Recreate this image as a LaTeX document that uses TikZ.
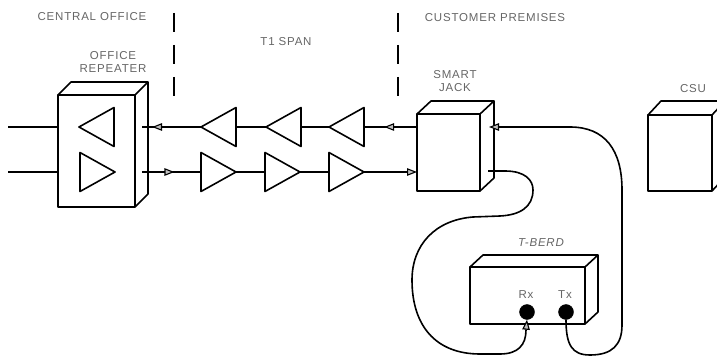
\documentclass[tikz,border=0pt]{standalone}
\usepackage{fontspec}
\setmainfont[LetterSpace=7]{Liberation Sans}
\usetikzlibrary{shapes.geometric,arrows.meta,decorations.markings}
\definecolor{lbl}{gray}{0.4}
\tikzset{
  x=1pt,y=-1pt,
  ink/.style={line width=1.6pt,black,line join=round},
  boxfront/.style={draw,ink,rectangle,inner sep=0,outer sep=0},
  ampl/.style={draw,ink,isosceles triangle,isosceles triangle stretches,inner sep=0,outer sep=0,
    minimum width=39pt,minimum height=35pt,anchor=apex},
  ampleft/.style={ampl,shape border rotate=180},
  ampright/.style={ampl,shape border rotate=0},
  wire/.style={ink},
  opentip/.tip={Triangle[length=10pt,width=7.5pt,fill=lightgray,line width=1.1pt]},
  flowat/.style={postaction={decorate,decoration={markings,mark=at position #1 with {\arrow{opentip}}}}},
  lab/.style={text=lbl,font=\fontsize{11.5}{13}\selectfont,inner sep=0,align=center},
  boundary/.style={line width=1.6pt,black},
  port/.style={circle,fill=black,draw=black,minimum size=15pt,inner sep=0},
}
\newcommand{\cuboid}[7]{% name, x0,y0,x1,y1, dx, dy
  \node[boxfront,minimum width=#4-#2,minimum height=#5-#3] (#1) at ({(#2+#4)/2},{(#3+#5)/2}) {};
  \draw[ink] (#1.north west) -- ++(#6,-#7) -- ({#4+#6},{#3-#7}) -- (#1.north east);
  \draw[ink] ({#4+#6},{#3-#7}) -- ({#4+#6},{#5-#7}) -- (#1.south east);
}
\begin{document}
\begin{tikzpicture}
\clip (0,0) rectangle (717,358);
\fill[white] (0,0) rectangle (717,358);

% labels
\node[lab] (lco) at (92,17) {CENTRAL OFFICE};
\node[lab] (lspan) at (286,42) {T1 SPAN};
\node[lab] (lcp) at (495,18) {CUSTOMER PREMISES};
\node[lab] (lrep) at (113,61.5) {OFFICE\\REPEATER};
\node[lab] (ljack) at (455,81.5) {SMART\\JACK};
\node[lab] (lcsu) at (693,89) {CSU};
\node[lab,font=\fontsize{11.5}{13}\itshape] (lbert) at (541,243) {T-BERD};
\node[lab] (lrx) at (526,295) {Rx};
\node[lab] (ltx) at (565,295) {Tx};

% boundaries
\foreach \bx in {174,398}{
  \foreach \by in {13,45,77}{
    \draw[boundary] (\bx,\by) -- (\bx,\by+19);
  }
}

% boxes
\cuboid{rep}{58}{95}{135}{207}{13}{13}
\cuboid{jack}{417}{114}{480}{191}{14}{13}
\cuboid{csu}{648}{115}{712}{191}{13}{14}
\cuboid{bert}{470}{267}{585}{324}{13}{12}

% amplifiers
\node[ampleft]  (ra) at (79,127) {};
\node[ampright] (rb) at (115,172) {};
\node[ampleft]  (a1) at (201,127) {};
\node[ampleft]  (a2) at (266,127) {};
\node[ampleft]  (a3) at (329,127) {};
\node[ampright] (b1) at (236,172) {};
\node[ampright] (b2) at (300,172) {};
\node[ampright] (b3) at (364,172) {};

% free ends
\coordinate (in1) at (8,127);
\coordinate (in2) at (8,172);
\coordinate (side1) at (142,127);
\coordinate (side2) at (142,172);
\coordinate (jin) at (489,127);
\coordinate (jout) at (488,171);

% lines
\draw[wire] (in1) -- (rep.west |- in1);
\draw[wire] (in2) -- (rep.west |- in2);
\draw[wire,flowat=0.83] (a1.apex) -- (side1);
\draw[wire] (a1.lower side) -- (a2.apex);
\draw[wire] (a2.lower side) -- (a3.apex);
\draw[wire,flowat=0.62] (jack.west |- a3.apex) -- (a3.lower side);
\draw[wire,flowat=0.55] (side2) -- (b1.lower side);
\draw[wire] (b1.apex) -- (b2.lower side);
\draw[wire] (b2.apex) -- (b3.lower side);
\draw[wire,-opentip] (b3.apex) -- (jack.west |- b3.apex);

% ports
\node[port] (rx) at (527,312) {};
\node[port] (tx) at (566,312) {};

% cables
\draw[wire,-opentip] (tx.south) .. controls (566,345) and (572,355) .. (590,355)
  .. controls (612,355) and (622,345) .. (622,325) -- (622,190)
  .. controls (622,150) and (605,127) .. (570,127) -- (jin);
\draw[wire,-opentip] (jout) -- (505,171) .. controls (525,171) and (533,180) .. (533,190)
  .. controls (533,207) and (520,215) .. (500,216) -- (473,217)
  .. controls (435,220) and (412,245) .. (412,280)
  .. controls (412,325) and (435,354) .. (480,354) -- (500,354)
  .. controls (518,354) and (526,345) .. (526,330) -- (rx.south);
\end{tikzpicture}
\end{document}
